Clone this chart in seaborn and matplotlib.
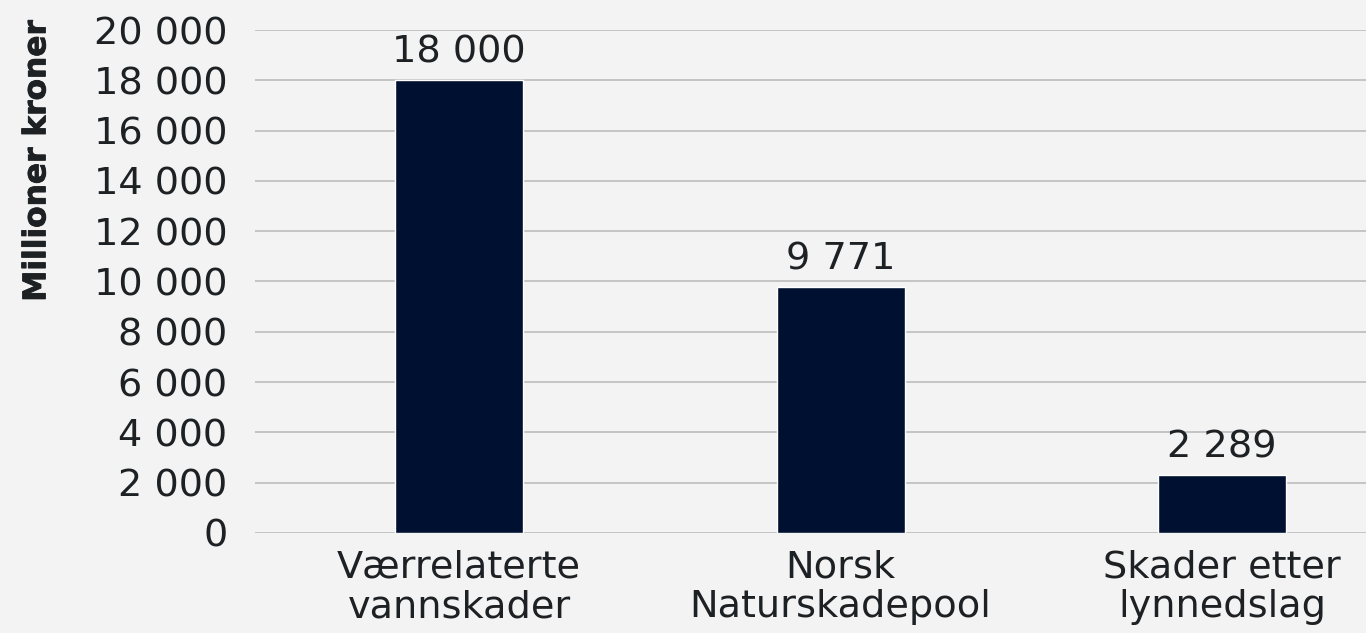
import numpy as np
import pandas as pd
import seaborn as sns
import matplotlib.pyplot as plt
import matplotlib.patheffects as pe
from matplotlib.ticker import FuncFormatter

# Data
categories = ["Værrelaterte\nvannskader", "Norsk\nNaturskadepool", "Skader etter\nlynnedslag"]
values = [18000, 9771, 2289]
y_ticks = list(range(0, 20001, 2000))

df = pd.DataFrame({"kategori": categories, "verdi": values})

BG = "#f3f3f3"
BAR = "#001030"
TXT = "#1e2124"

sns.set_theme(style="whitegrid")
plt.rcParams["font.family"] = ["DejaVu Sans"]

fig = plt.figure(figsize=(13.66, 6.33), dpi=100, facecolor=BG)
ax = fig.add_axes([0.1867, 0.158, 0.8133, 0.7946], facecolor=BG)

sns.barplot(data=df, x="kategori", y="verdi", color=BAR, width=0.336,
            saturation=1, ax=ax)


def space_fmt(v, pos=None):
    return f"{int(round(v)):,}".replace(",", " ")


ax.set_ylim(0, 20000)
ax.set_xlim(-0.535, 2.377)
ax.set_yticks(y_ticks)
ax.yaxis.set_major_formatter(FuncFormatter(space_fmt))

ax.bar_label(ax.containers[0], labels=[space_fmt(v) for v in values],
             padding=7, fontsize=27.5, color=TXT)

ax.grid(axis="y", color="#c4c4c4", linewidth=1.4)
ax.grid(axis="x", visible=False)
for s in ax.spines.values():
    s.set_visible(False)

ax.tick_params(axis="y", length=0, pad=20, labelsize=27.5, labelcolor=TXT)
ax.tick_params(axis="x", length=0, pad=12, labelsize=27.5, labelcolor=TXT)
for lbl in ax.get_xticklabels():
    lbl.set_linespacing(1.12)

ax.set_xlabel("")
ax.set_ylabel("")
# y-axis title
fig.text(0.027, 0.746, "Millioner kroner", rotation=90, ha="center", va="center",
         fontsize=22.5, fontweight="bold", color=TXT,
         path_effects=[pe.withStroke(linewidth=0.6, foreground=TXT)])

fig.savefig("out.png", dpi=100, facecolor=BG)
